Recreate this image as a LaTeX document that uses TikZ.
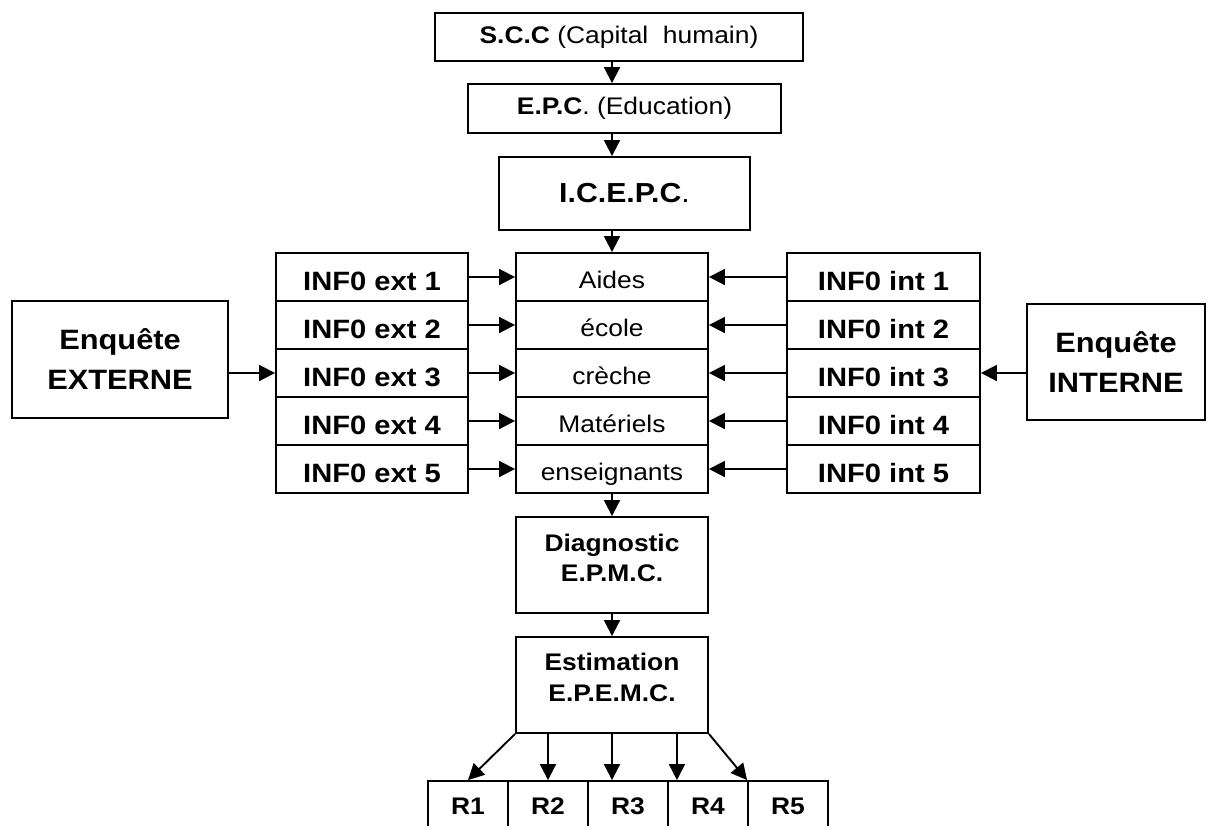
\documentclass[tikz,border=0pt]{standalone}
\usepackage{fontspec}
\setmainfont{Liberation Sans}[FakeStretch=1.1]
\usetikzlibrary{arrows.meta}

\tikzset{
  box/.style={draw, line width=1.9pt, inner sep=0pt, align=center},
  arr/.style={line width=1.9pt, -{Triangle[length=16pt,width=16pt]}},
}

\begin{document}
\begin{tikzpicture}[x=1pt,y=-1pt]
\useasboundingbox (0,0) rectangle (1209,825);
\clip (0,0) rectangle (1209,825);

\node[box, minimum width=368pt, minimum height=48pt, font=\fontsize{24}{27}\selectfont] (scc) at (619,37) {\textbf{S.C.C} (Capital~~humain)};
\node[box, minimum width=313pt, minimum height=49pt, font=\fontsize{24}{27}\selectfont] (epc) at (624.5,108.5) {\textbf{E.P.C}. (Education)};
\node[box, minimum width=251pt, minimum height=73pt, font=\fontsize{27.5}{30}\selectfont] (icepc) at (624.5,193.5) {\textbf{I.C.E.P.C}.};

\foreach \t [count=\n] in {Aides,école,crèche,Matériels,enseignants}{
  \node[box, minimum width=192pt, minimum height=48pt, text height=23pt, text depth=0pt, font=\fontsize{24}{27}\selectfont] (mid\n) at (612,229+48*\n) {\t};
  \node[box, minimum width=192pt, minimum height=48pt, text height=26pt, text depth=0pt, font=\fontsize{26.5}{30}\selectfont\bfseries] (ext\n) at (372,229+48*\n) {INF0 ext \n};
  \node[box, minimum width=193pt, minimum height=48pt, text height=27pt, text depth=0pt, font=\fontsize{26.5}{30}\selectfont\bfseries] (int\n) at (883.5,229+48*\n) {INF0 int \n};
  \draw[arr] (ext\n) -- (mid\n);
  \draw[arr] (int\n) -- (mid\n);
}

\node[box, minimum width=216pt, minimum height=117pt, font=\fontsize{28}{40}\selectfont\bfseries] (extq) at (120,359.5) {Enquête\\EXTERNE};
\node[box, minimum width=178pt, minimum height=116pt, font=\fontsize{28}{40}\selectfont\bfseries] (intq) at (1116,362) {Enquête\\INTERNE};

\node[box, minimum width=192pt, minimum height=96pt, font=\fontsize{24}{30}\selectfont\bfseries] (diag) at (612,565) {Diagnostic\\E.P.M.C.\\[-16pt]\mbox{}};
\node[box, minimum width=192pt, minimum height=96pt, font=\fontsize{24}{31}\selectfont\bfseries] (est) at (612,685) {Estimation\\E.P.E.M.C.\\[-16pt]\mbox{}};

\foreach \n in {1,...,5}
  \node[box, minimum width=80pt, minimum height=50pt, font=\fontsize{24}{27}\selectfont\bfseries] (r\n) at (388+80*\n,806) {R\n};

\draw[arr] (scc.south -| mid1) -- (epc.north -| mid1);
\draw[arr] (epc.south -| mid1) -- (icepc.north -| mid1);
\draw[arr] (icepc.south -| mid1) -- (mid1.north);
\draw[arr] (extq.east |- ext3) -- (ext3.west);
\draw[arr] (intq.west |- int3) -- (int3.east);
\draw[arr] (mid5.south) -- (diag.north);
\draw[arr] (diag.south) -- (est.north);

\draw[arr] (est.south west) -- (r1.north);
\draw[arr] (r2.north |- est.south) -- (r2.north);
\draw[arr] (est.south) -- (est.south |- r3.north);
\draw[arr] ([xshift=-32pt]est.south east) -- ([xshift=-32pt]est.south east |- r4.north);
\draw[arr] (est.south east) -- (r5.north west);
\end{tikzpicture}
\end{document}
